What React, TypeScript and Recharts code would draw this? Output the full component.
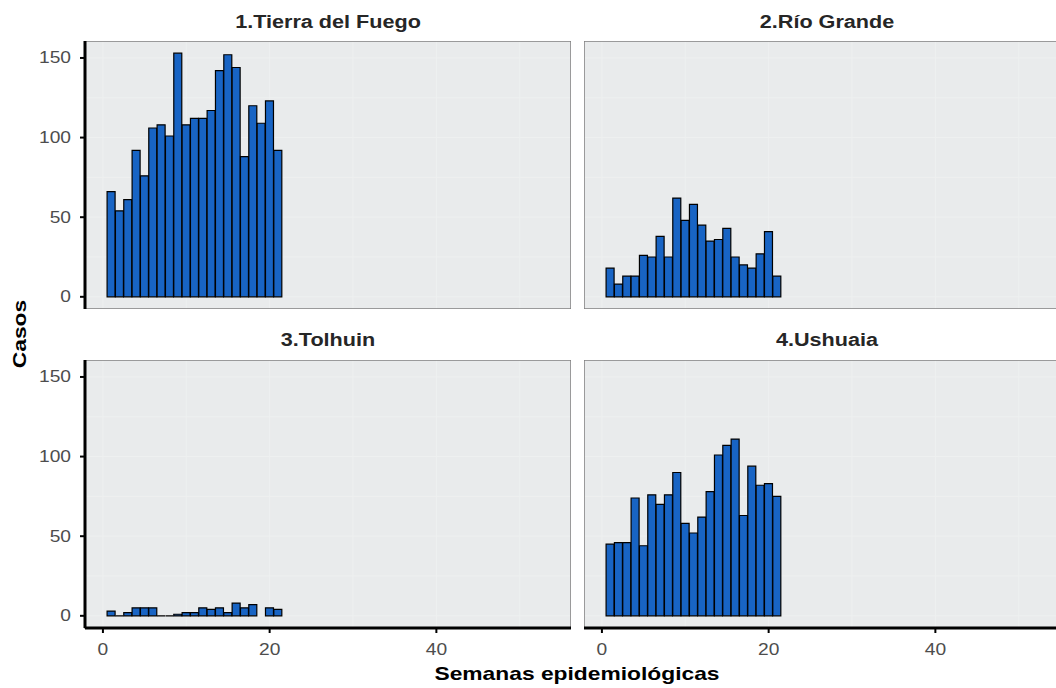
import React from "react";
import {
  BarChart,
  Bar,
  XAxis,
  YAxis,
  CartesianGrid,
  ReferenceArea,
} from "recharts";

// semanas epidemiológicas (1..21) y casos por departamento
const weeks = [1, 2, 3, 4, 5, 6, 7, 8, 9, 10, 11, 12, 13, 14, 15, 16, 17, 18, 19, 20, 21];
const tierraDelFuego = [66, 54, 61, 92, 76, 106, 108, 101, 153, 108, 112, 112, 117, 142, 152, 144, 88, 120, 109, 123, 92];
const rioGrande = [18, 8, 13, 13, 26, 25, 38, 25, 62, 48, 58, 45, 35, 36, 43, 25, 20, 18, 27, 41, 13];
const tolhuin = [3, 0, 2, 5, 5, 5, 0, 0, 1, 2, 2, 5, 4, 5, 2, 8, 5, 7, null, 5, 4];
const ushuaia = [45, 46, 46, 74, 44, 76, 70, 76, 90, 58, 52, 62, 78, 101, 107, 111, 63, 94, 82, 83, 75];

const panelTitles = ["1.Tierra del Fuego", "2.Río Grande", "3.Tolhuin", "4.Ushuaia"];
const xTicks = [0, 20, 40];
const yTicks = [0, 50, 100, 150];
const xGrid = [0, 10, 20, 30, 40, 50];
const yGrid = [0, 25, 50, 75, 100, 125, 150];

const X_DOMAIN: [number, number] = [-2.15, 56.15];
const Y_DOMAIN: [number, number] = [-7.65, 160.65];
const FONT = '"Liberation Sans", Arial, sans-serif';
const STRETCH = 1.2;
const BAR_FILL = "#1864c4";

function YTick({ x, y, payload }: any) {
  return (
    <text
      transform={`translate(${x},${y}) scale(${STRETCH},1)`}
      textAnchor="end"
      dominantBaseline="central"
      fontSize={16}
      fontFamily={FONT}
      fill="#4d4d4d"
    >
      {payload.value}
    </text>
  );
}

function XTick({ x, y, payload }: any) {
  return (
    <text
      transform={`translate(${x},${y}) scale(${STRETCH},1)`}
      textAnchor="middle"
      dy="0.71em"
      fontSize={16}
      fontFamily={FONT}
      fill="#4d4d4d"
    >
      {payload.value}
    </text>
  );
}

// zero-height columns still show their outline, like ggplot
function BarShape(props: any) {
  const { x, y, width, height } = props;
  if (x == null || y == null || !width) return null;
  return (
    <path
      d={`M${x},${y}h${width}v${height}h${-width}Z`}
      fill={BAR_FILL}
      stroke="#000"
      strokeWidth={1.2}
    />
  );
}

type PanelProps = {
  values: (number | null)[];
  showX: boolean;
  showY: boolean;
  left: number;
  top: number;
};

function Panel({ values, showX, showY, left, top }: PanelProps) {
  const data = weeks.map((week, i) => ({ week, casos: values[i] }));
  const width = showY ? 571 : 486;
  const height = showX ? 308 : 268;
  return (
    <div style={{ position: "absolute", left, top }}>
      <BarChart
        width={width}
        height={height}
        data={data}
        margin={{ top: 0, right: 0, bottom: 0, left: 0 }}
        barCategoryGap={0}
        barGap={0}
      >
        <CartesianGrid
          fill="#e9ebec"
          fillOpacity={1}
          stroke="#eef0f0"
          strokeWidth={1}
          verticalValues={xGrid}
          horizontalValues={yGrid}
        />
        <ReferenceArea
          x1={X_DOMAIN[0]}
          x2={X_DOMAIN[1]}
          y1={Y_DOMAIN[0]}
          y2={Y_DOMAIN[1]}
          fill="none"
          stroke="#808080"
          strokeWidth={1.5}
          ifOverflow="visible"
        />
        <XAxis
          type="number"
          dataKey="week"
          domain={X_DOMAIN}
          ticks={xTicks}
          allowDataOverflow
          hide={!showX}
          height={40}
          axisLine={{ stroke: "#000", strokeWidth: 3 }}
          tickLine={{ stroke: "#000", strokeWidth: 2 }}
          tickSize={5}
          tickMargin={11}
          tick={<XTick />}
        />
        <YAxis
          type="number"
          domain={Y_DOMAIN}
          ticks={yTicks}
          allowDataOverflow
          hide={!showY}
          width={85}
          axisLine={{ stroke: "#000", strokeWidth: 3 }}
          tickLine={{ stroke: "#000", strokeWidth: 2 }}
          tickSize={5}
          tickMargin={9}
          tick={<YTick />}
        />
        <Bar dataKey="casos" shape={BarShape} isAnimationActive={false} />
      </BarChart>
    </div>
  );
}

const titleStyle = (cx: number, top: number): React.CSSProperties => ({
  position: "absolute",
  left: cx,
  top,
  transform: `translateX(-50%) scaleX(${STRETCH})`,
  fontSize: 18,
  lineHeight: "18px",
  fontWeight: 700,
  color: "#262626",
  whiteSpace: "nowrap",
});

export default function App() {
  return (
    <div
      style={{
        position: "absolute",
        left: 0,
        top: 0,
        width: 1056,
        height: 688,
        overflow: "hidden",
        background: "#fff",
        fontFamily: FONT,
      }}
    >
      <div style={titleStyle(328, 13)}>{panelTitles[0]}</div>
      <div style={titleStyle(827, 13)}>{panelTitles[1]}</div>
      <div style={titleStyle(328, 331)}>{panelTitles[2]}</div>
      <div style={titleStyle(827, 331)}>{panelTitles[3]}</div>

      <Panel values={tierraDelFuego} showX={false} showY={true} left={0} top={41} />
      <Panel values={rioGrande} showX={false} showY={false} left={584} top={41} />
      <Panel values={tolhuin} showX={true} showY={true} left={0} top={360} />
      <Panel values={ushuaia} showX={true} showY={false} left={584} top={360} />

      <div
        style={{
          position: "absolute",
          left: 577,
          top: 664,
          transform: `translateX(-50%) scaleX(${STRETCH})`,
          fontSize: 19,
          lineHeight: "19px",
          fontWeight: 700,
          color: "#000",
          whiteSpace: "nowrap",
        }}
      >
        Semanas epidemiológicas
      </div>
      <div
        style={{
          position: "absolute",
          left: 19,
          top: 334,
          transform: `translate(-50%, -50%) rotate(-90deg) scaleX(${STRETCH})`,
          fontSize: 19,
          lineHeight: "19px",
          fontWeight: 700,
          color: "#000",
          whiteSpace: "nowrap",
        }}
      >
        Casos
      </div>
    </div>
  );
}
